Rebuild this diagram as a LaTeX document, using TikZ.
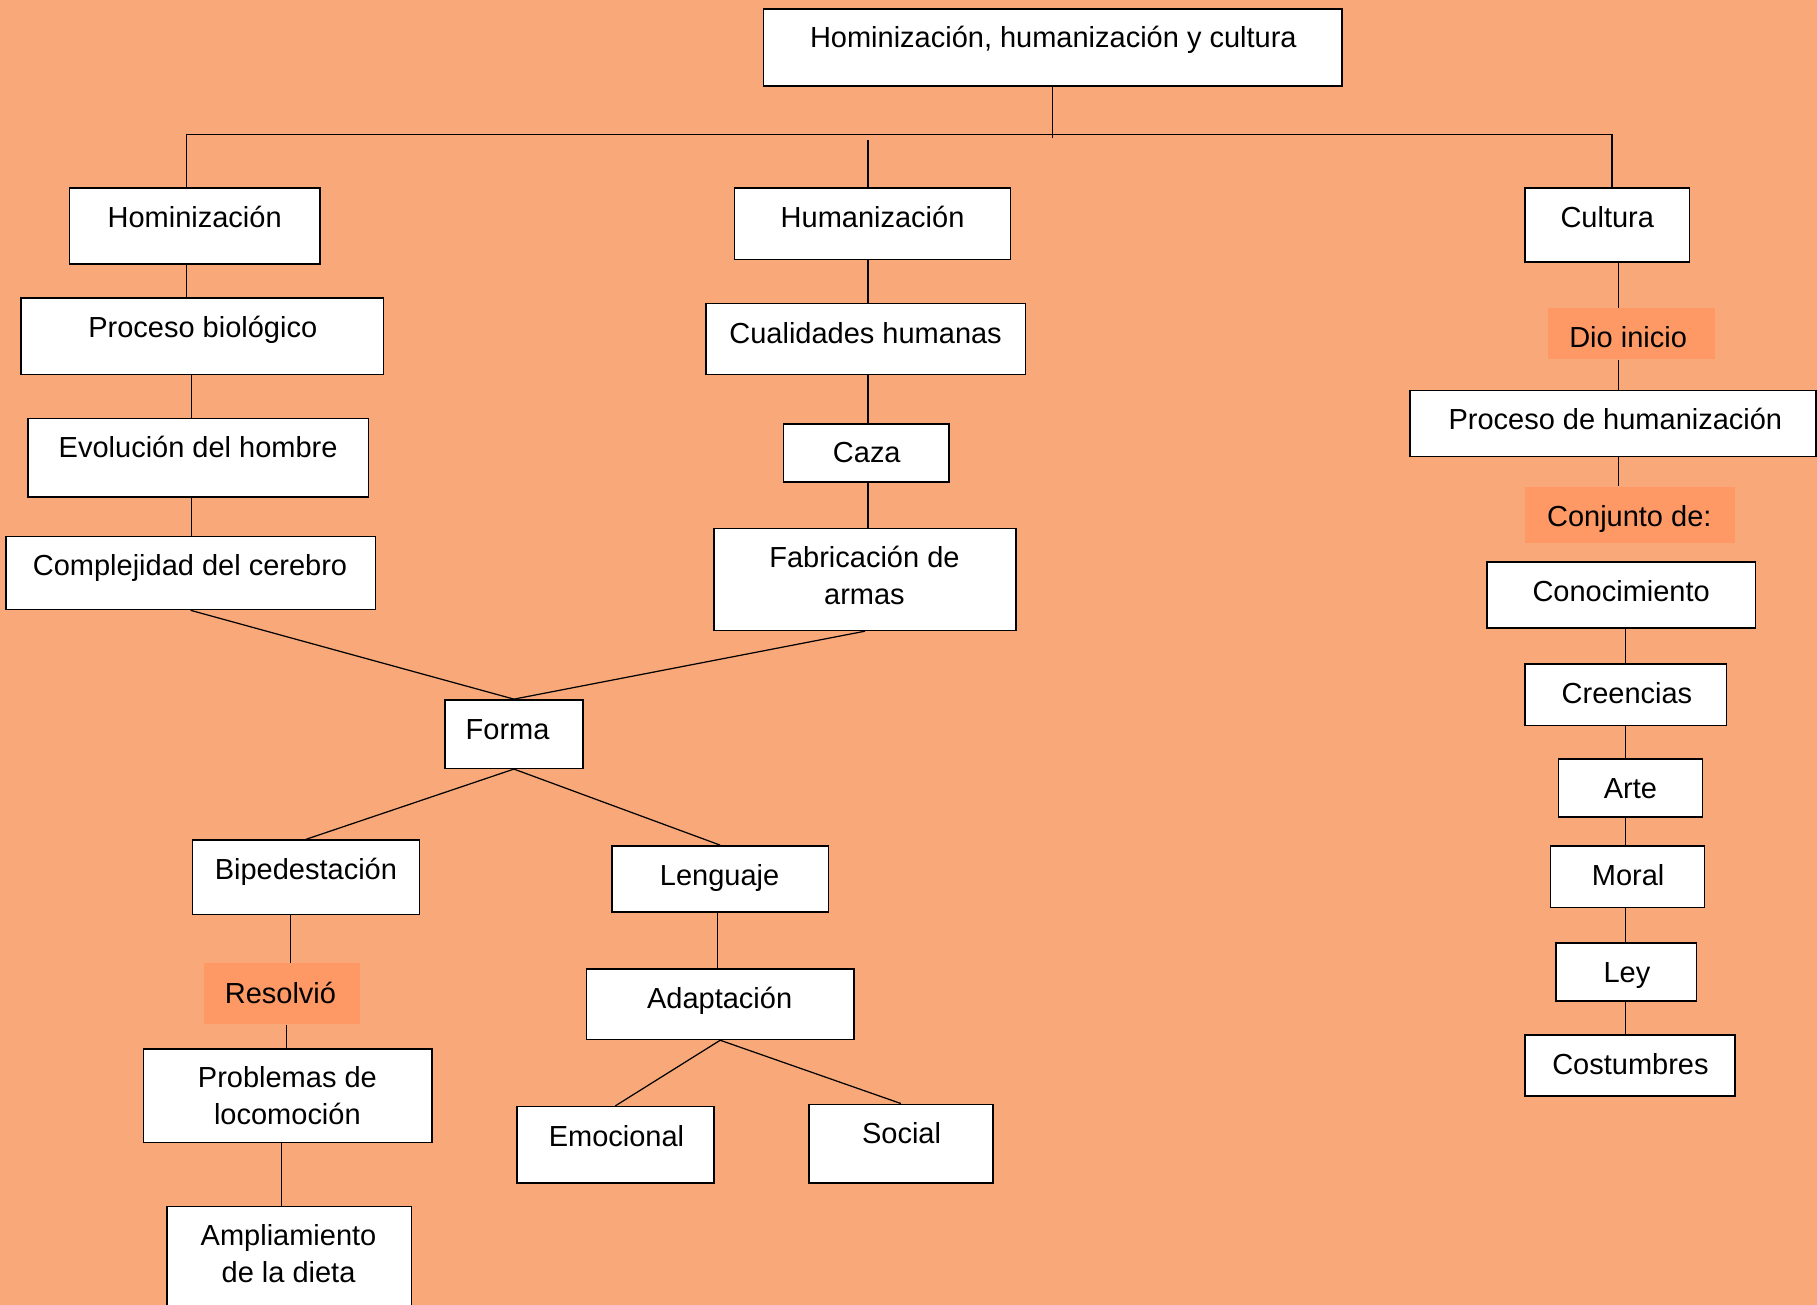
\documentclass[tikz,border=0pt]{standalone}
\usepackage{fontspec}
\setmainfont{Liberation Sans}
\usetikzlibrary{fit}
\definecolor{bgc}{HTML}{F9A979}
\definecolor{lblc}{HTML}{FE9966}
\tikzset{
  box/.style={draw=black, fill=white, line width=0.9pt, inner sep=0pt},
  lbl/.style={fill=lblc, draw=none, inner sep=0pt},
  txt/.style={anchor=base, inner sep=0pt, align=center, font=\fontsize{16.5}{21}\selectfont},
  con/.style={draw=black, line width=0.7pt}
}
\begin{document}
\begin{tikzpicture}[x=0.023176cm, y=-0.023176cm]
\fill[bgc] (0,0) rectangle (1568,1126);
\useasboundingbox (0,0) rectangle (1568,1126);
% boxes
\node[box, fit={(659,8) (1158,74)}] (top) {};
\node[txt] (top-t) at (909,41) {Hominización, humanización y cultura};
\node[box, fit={(60,162) (276,228)}] (hom) {};
\node[txt] (hom-t) at (168,196) {Hominización};
\node[box, fit={(634,162) (872,224)}] (hum) {};
\node[txt] (hum-t) at (753,196) {Humanización};
\node[box, fit={(1316,162) (1458,226)}] (cul) {};
\node[txt] (cul-t) at (1387,196) {Cultura};
\node[box, fit={(18,257) (331,323)}] (pb) {};
\node[txt] (pb-t) at (175,291) {Proceso biológico};
\node[box, fit={(609,262) (885,323)}] (cua) {};
\node[txt] (cua-t) at (747,296) {Cualidades humanas};
\node[lbl, fit={(1336,266) (1480,310)}] (dio) {};
\node[txt] (dio-t) at (1405,300) {Dio inicio};
\node[box, fit={(1217,337) (1567,394)}] (ph) {};
\node[txt] (ph-t) at (1394,371) {Proceso de humanización};
\node[box, fit={(24,361) (318,429)}] (evo) {};
\node[txt] (evo-t) at (171,395) {Evolución del hombre};
\node[box, fit={(676,366) (819,416)}] (caza) {};
\node[txt] (caza-t) at (748,399) {Caza};
\node[lbl, fit={(1316,420) (1497,469)}] (conj) {};
\node[txt] (conj-t) at (1406,454) {Conjunto de:};
\node[box, fit={(5,463) (324,526)}] (comp) {};
\node[txt] (comp-t) at (164,497) {Complejidad del cerebro};
\node[box, fit={(616,456) (877,544)}] (fab) {};
\node[txt] (fab-t) at (746,522) {Fabricación de\\armas};
\node[box, fit={(1283,485) (1515,542)}] (cono) {};
\node[txt] (cono-t) at (1399,519) {Conocimiento};
\node[box, fit={(1316,573) (1490,626)}] (cree) {};
\node[txt] (cree-t) at (1404,607) {Creencias};
\node[box, fit={(384,604) (503,663)}] (forma) {};
\node[txt] (forma-t) at (438,638) {Forma};
\node[box, fit={(1345,655) (1469,705)}] (arte) {};
\node[txt] (arte-t) at (1407,689) {Arte};
\node[box, fit={(166,725) (362,789)}] (bip) {};
\node[txt] (bip-t) at (264,759) {Bipedestación};
\node[box, fit={(528,730) (715,787)}] (len) {};
\node[txt] (len-t) at (621,764) {Lenguaje};
\node[box, fit={(1338,730) (1471,783)}] (moral) {};
\node[txt] (moral-t) at (1405,764) {Moral};
\node[box, fit={(1343,814) (1464,864)}] (ley) {};
\node[txt] (ley-t) at (1404,848) {Ley};
\node[lbl, fit={(176,831) (311,884)}] (res) {};
\node[txt] (res-t) at (242,866) {Resolvió};
\node[box, fit={(506,836) (737,897)}] (ada) {};
\node[txt] (ada-t) at (621,870) {Adaptación};
\node[box, fit={(1316,893) (1497,946)}] (cos) {};
\node[txt] (cos-t) at (1407,927) {Costumbres};
\node[box, fit={(124,905) (373,986)}] (prob) {};
\node[txt] (prob-t) at (248,970) {Problemas de\\locomoción};
\node[box, fit={(446,955) (616,1021)}] (emo) {};
\node[txt] (emo-t) at (532,989) {Emocional};
\node[box, fit={(698,953) (857,1021)}] (soc) {};
\node[txt] (soc-t) at (778,987) {Social};
\node[box, fit={(144,1041) (355,1140)}] (amp) {};
\node[txt] (amp-t) at (249,1107) {Ampliamiento\\de la dieta};
% helper coordinates
\coordinate (hl) at (161,116);
\coordinate (hr) at (1391,116);
\coordinate (hm) at (749,121);
\coordinate (c1) at (165,0);
\coordinate (c2) at (749,0);
\coordinate (c3) at (1397,0);
\coordinate (c4) at (1403,0);
\coordinate (c5a) at (251,0);
\coordinate (c5b) at (247,0);
\coordinate (c5c) at (243,0);
\coordinate (c6) at (619,0);
% connectors
\draw[con] (top.south) -- ([yshift=-2]top.south |- hl);
\draw[con] (hl) -- (hr);
\draw[con] (hl) -- (hom.north -| hl);
\draw[con] (hm) -- (hum.north -| hm);
\draw[con] (hr) -- (cul.north -| hr);
\draw[con] (hom.south -| hl) -- (pb.north -| hl);
\draw[con] (pb.south -| c1) -- (evo.north -| c1);
\draw[con] (evo.south -| c1) -- (comp.north -| c1);
\draw[con] (hum.south -| c2) -- (cua.north -| c2);
\draw[con] (cua.south -| c2) -- (caza.north -| c2);
\draw[con] (caza.south -| c2) -- (fab.north -| c2);
\draw[con] (comp.south) -- (forma.north);
\draw[con] (fab.south) -- (forma.north);
\draw[con] (forma.south) -- (bip.north);
\draw[con] (forma.south) -- (len.north);
\draw[con] (bip.south -| c5a) -- (res.north -| c5a);
\draw[con] (res.south -| c5b) -- (prob.north -| c5b);
\draw[con] (prob.south -| c5c) -- (amp.north -| c5c);
\draw[con] (len.south -| c6) -- (ada.north -| c6);
\draw[con] (ada.south) -- (emo.north);
\draw[con] (ada.south) -- (soc.north);
\draw[con] (cul.south -| c3) -- (dio.north -| c3);
\draw[con] (dio.south -| c3) -- (ph.north -| c3);
\draw[con] (ph.south -| c3) -- (conj.north -| c3);
\draw[con] (cono.south -| c4) -- (cree.north -| c4);
\draw[con] (cree.south -| c4) -- (arte.north -| c4);
\draw[con] (arte.south -| c4) -- (moral.north -| c4);
\draw[con] (moral.south -| c4) -- (ley.north -| c4);
\draw[con] (ley.south -| c4) -- (cos.north -| c4);
\end{tikzpicture}
\end{document}
